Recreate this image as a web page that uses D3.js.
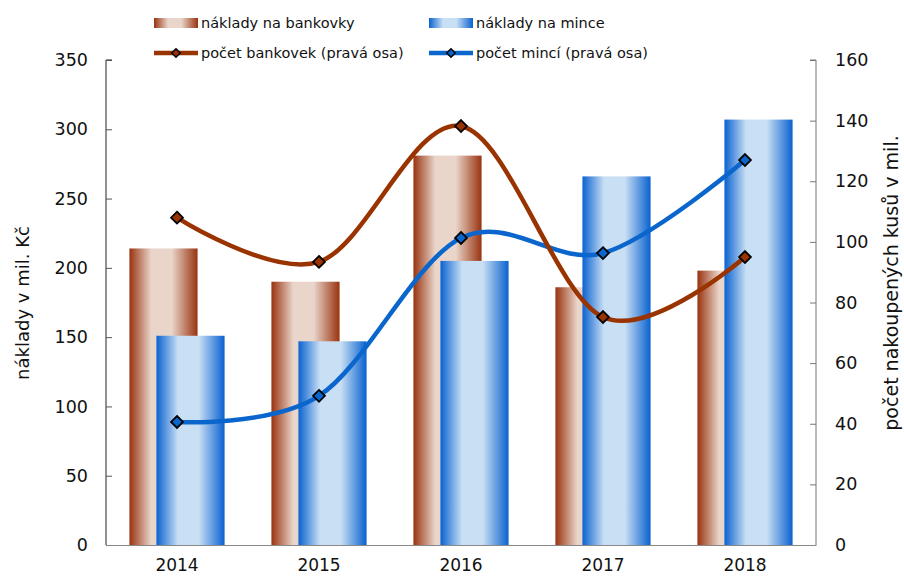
<!DOCTYPE html>
<html>
<head>
<meta charset="utf-8">
<script src="https://cdn.jsdelivr.net/npm/d3@7"></script>
<style>
  body { margin: 0; background: #fff; }
  svg text { font-family: "DejaVu Sans", Verdana, sans-serif; fill: #111; }
</style>
</head>
<body>
<svg id="chart" width="904" height="577"></svg>
<script>
//Data
const years = ["2014", "2015", "2016", "2017", "2018"];
const costNotes = [214, 190, 281, 186, 198];
const costCoins = [151, 147, 205, 266, 307];
const countNotes = [108, 93.4, 138.2, 75.2, 95];
const countCoins = [40.6, 49.2, 101.3, 96.3, 127];
const leftTicks = [0, 50, 100, 150, 200, 250, 300, 350];
const rightTicks = [0, 20, 40, 60, 80, 100, 120, 140, 160];

const BROWN = "#993300", BLUE = "#0a66cc";
const plot = { left: 106, right: 816, top: 60, bottom: 545 };

const svg = d3.select("#chart");

const x = d3.scaleBand().domain(years).range([plot.left, plot.right]).padding(0);
const yL = d3.scaleLinear().domain([0, 350]).range([plot.bottom, plot.top]);
const yR = d3.scaleLinear().domain([0, 160]).range([plot.bottom, plot.top]);
const barW = x.bandwidth() * 0.48;
const shift = 13.5;
const cx = d => x(d) + x.bandwidth() / 2;

//Gradients
const defs = svg.append("defs");
function grad(id, edge, light) {
  const g = defs.append("linearGradient").attr("id", id).attr("x1", "0").attr("x2", "1").attr("y1", "0").attr("y2", "0");
  [[0, edge], [0.32, light], [0.62, light], [1, edge]].forEach(([o, c]) =>
    g.append("stop").attr("offset", o).attr("stop-color", c));
}
grad("gNotes", "#99330f", "#e9d5ca");
grad("gCoins", "#0a62d0", "#c9dff4");

//Bars
svg.append("g").selectAll("rect")
  .data(years.map((y, i) => ({ y, v: costNotes[i] })))
  .join("rect")
  .attr("x", d => cx(d.y) - shift - barW / 2)
  .attr("y", d => yL(d.v))
  .attr("width", barW)
  .attr("height", d => yL(0) - yL(d.v))
  .attr("fill", "url(#gNotes)");

svg.append("g").selectAll("rect")
  .data(years.map((y, i) => ({ y, v: costCoins[i] })))
  .join("rect")
  .attr("x", d => cx(d.y) + shift - barW / 2)
  .attr("y", d => yL(d.v))
  .attr("width", barW)
  .attr("height", d => yL(0) - yL(d.v))
  .attr("fill", "url(#gCoins)");

//Axes
const axL = svg.append("g")
  .attr("transform", `translate(${plot.left},0)`)
  .call(d3.axisRight(yL).tickValues(leftTicks).tickSize(6).tickFormat(d3.format("d")));
axL.select(".domain").attr("stroke", "#222").attr("d", `M6,${plot.top}H0V${plot.bottom}`);
axL.selectAll(".tick line").attr("stroke", "#555");
axL.selectAll(".tick text").attr("x", -18).attr("text-anchor", "end").style("font-size", "17.5px");

const axR = svg.append("g")
  .attr("transform", `translate(${plot.right},0)`)
  .call(d3.axisLeft(yR).tickValues(rightTicks).tickSize(6).tickFormat(d3.format("d")));
axR.select(".domain").attr("stroke", "#777").attr("d", `M-6,${plot.top}H0V${plot.bottom}`);
axR.selectAll(".tick line").attr("stroke", "#777");
axR.selectAll(".tick text").attr("x", 19).attr("text-anchor", "start").style("font-size", "17.5px");

const axB = svg.append("g")
  .attr("transform", `translate(0,${plot.bottom})`)
  .call(d3.axisBottom(x).tickSize(0));
axB.select(".domain").attr("stroke", "#888");
axB.selectAll(".tick text").attr("y", 14).style("font-size", "17px");

svg.selectAll(".tick text").attr("fill", "#111").attr("font-family", "DejaVu Sans");

svg.append("text")
  .attr("transform", "translate(24,303) rotate(-90)")
  .attr("text-anchor", "middle").attr("dominant-baseline", "middle")
  .style("font-size", "18px")
  .text("náklady v mil. Kč");

svg.append("text")
  .attr("transform", "translate(892,283) rotate(-90)")
  .attr("text-anchor", "middle").attr("dominant-baseline", "middle")
  .style("font-size", "19px")
  .text("počet nakoupených kusů v mil.");

//Lines
const line = d3.line().x(d => cx(d.y)).y(d => yR(d.v)).curve(d3.curveCatmullRom.alpha(0));
const diamond = d3.symbol().type(d3.symbolDiamond2).size(90);

function series(vals, color) {
  const data = years.map((y, i) => ({ y, v: vals[i] }));
  const g = svg.append("g");
  g.append("path").datum(data).attr("d", line)
    .attr("fill", "none").attr("stroke", color).attr("stroke-width", 4.5);
  g.selectAll("path.pt").data(data).join("path").attr("class", "pt")
    .attr("d", diamond)
    .attr("transform", d => `translate(${cx(d.y)},${yR(d.v)})`)
    .attr("fill", color).attr("stroke", "#000").attr("stroke-width", 1.8);
}
series(countCoins, BLUE);
series(countNotes, BROWN);

//Legend
const legend = [
  { label: "náklady na bankovky", type: "bar", fill: "url(#gNotes)", x: 154, y: 23 },
  { label: "náklady na mince", type: "bar", fill: "url(#gCoins)", x: 429, y: 23 },
  { label: "počet bankovek (pravá osa)", type: "line", color: BROWN, x: 154, y: 53 },
  { label: "počet mincí (pravá osa)", type: "line", color: BLUE, x: 429, y: 53 }
];
const lg = svg.append("g").selectAll("g").data(legend).join("g")
  .attr("transform", d => `translate(${d.x},${d.y})`);
lg.filter(d => d.type === "bar").append("rect")
  .attr("x", 0).attr("y", -5).attr("width", 44).attr("height", 10)
  .attr("fill", d => d.fill);
lg.filter(d => d.type === "line").append("line")
  .attr("x1", 0).attr("x2", 44).attr("stroke", d => d.color).attr("stroke-width", 4.5);
lg.filter(d => d.type === "line").append("path")
  .attr("d", d3.symbol().type(d3.symbolDiamond2).size(45))
  .attr("transform", "translate(22,0)")
  .attr("fill", d => d.color).attr("stroke", "#000").attr("stroke-width", 1.5);
lg.append("text")
  .attr("x", 47).attr("dy", "0.35em")
  .style("font-size", "14.5px")
  .text(d => d.label);
</script>
</body>
</html>
